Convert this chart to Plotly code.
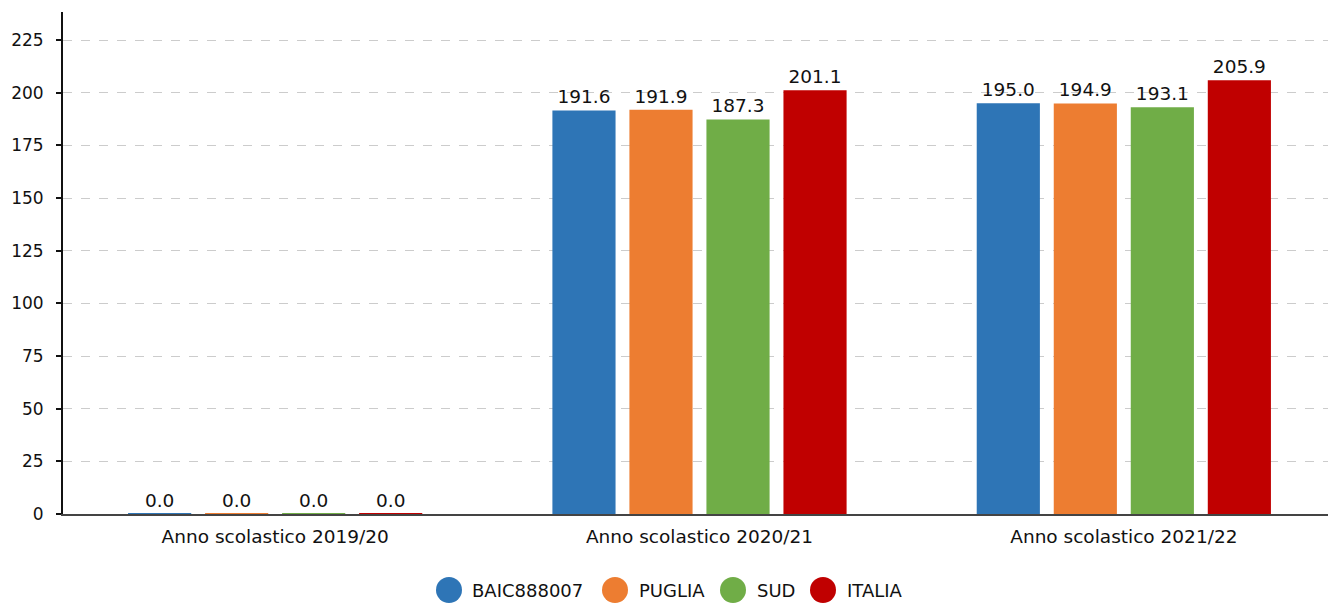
import plotly.graph_objects as go

categories = ["Anno scolastico 2019/20", "Anno scolastico 2020/21", "Anno scolastico 2021/22"]
series_names = ["BAIC888007", "PUGLIA", "SUD", "ITALIA"]
baic = [0.0, 191.6, 195.0]
puglia = [0.0, 191.9, 194.9]
sud = [0.0, 187.3, 193.1]
italia = [0.0, 201.1, 205.9]
y_ticks = [0, 25, 50, 75, 100, 125, 150, 175, 200, 225]

colors = ["#2e75b6", "#ed7d31", "#70ad47", "#c00000"]
values = [baic, puglia, sud, italia]
FONT = "DejaVu Sans"

W, H = 1336, 603
ML, MR, MT, MB = 63, 0, 12, 89
PW, PH = W - ML - MR, H - MT - MB

fig = go.Figure()
for name, vals, col in zip(series_names, values, colors):
    fig.add_trace(go.Bar(
        x=categories, y=vals, name=name, marker_color=col,
        marker_line_color=col,
        marker_line_width=[2 if v == 0 else 0 for v in vals],
        text=[f"{v:.1f}" for v in vals], textposition="outside",
        textfont=dict(family=FONT, size=18.5, color="#111"),
        cliponaxis=False, showlegend=False,
    ))

# custom legend with large circles
legend_circle_x = [449, 615, 733, 823]
legend_text_x = [470, 637, 755, 845]
legend_y = 590
for name, col, cx, tx in zip(series_names, colors, legend_circle_x, legend_text_x):
    py = (MT + PH - legend_y) / PH
    fig.add_shape(type="circle", xref="paper", yref="paper",
                  xsizemode="pixel", ysizemode="pixel",
                  xanchor=(cx - ML) / PW, yanchor=py,
                  x0=-13, x1=13, y0=-13, y1=13,
                  fillcolor=col, line=dict(width=0))
    fig.add_annotation(text=name, xref="paper", yref="paper",
                       x=(tx - ML) / PW, y=py, xanchor="left", yanchor="middle",
                       showarrow=False, font=dict(family=FONT, size=18, color="#111"))

fig.update_layout(
    width=W, height=H,
    margin=dict(l=ML, r=MR, t=MT, b=MB, autoexpand=False),
    plot_bgcolor="white", paper_bgcolor="white",
    barmode="group", bargap=0.274, bargroupgap=0.18,
    font=dict(family=FONT, size=17, color="#111"),
    showlegend=False,
)
fig.update_xaxes(showline=True, linecolor="#444", linewidth=2, ticks="",
                 tickfont=dict(family=FONT, size=18.5, color="#111"), showgrid=False,
                 ticklabelstandoff=5, automargin=False, layer="below traces")
fig.update_yaxes(range=[0, 238.3], tickvals=y_ticks, showline=True, linecolor="#111",
                 linewidth=2, ticks="outside", ticklen=5, tickwidth=2, tickcolor="#111",
                 showgrid=True, gridcolor="#cccccc", griddash="dash", gridwidth=1,
                 zeroline=False, tickfont=dict(family=FONT, size=17, color="#111"),
                 ticklabelstandoff=9, automargin=False)

fig.write_html("out.html", config={"displayModeBar": False},
               post_script="document.body.style.margin='0';document.body.style.overflow='hidden';")
